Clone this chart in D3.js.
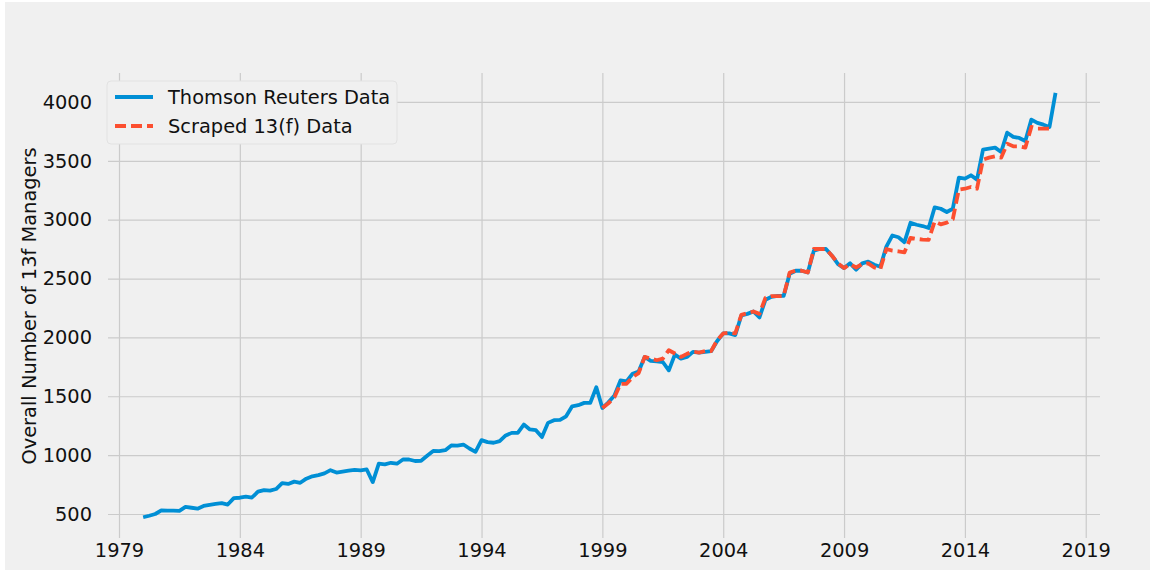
<!DOCTYPE html>
<html>
<head>
<meta charset="utf-8">
<script src="https://cdn.jsdelivr.net/npm/d3@7"></script>
<style>
  body { margin: 0; background: #ffffff; }
  svg { display: block; }
  text { font-family: "DejaVu Sans", sans-serif; }
</style>
</head>
<body>
<div id="chart"></div>
<script>
// quarterly counts, Thomson Reuters from 1980.00, scraped 13(f) from 1999.00
const trStart = 1980.0;
const thomsonReuters = [
  472, 485, 500, 530,   528, 528, 527, 560,   553, 545, 568, 578,   585, 592, 580, 635,
  638, 648, 640, 690,   703, 698, 712, 762,   755, 775, 765, 800,   820, 830, 845, 872,
  852, 860, 868, 875,   870, 878, 771, 927,   921, 935, 927, 963,   963, 950, 952, 995,
  1035, 1034, 1042, 1082, 1080, 1090, 1056, 1028, 1127, 1110, 1105, 1119, 1167, 1189, 1190, 1260,
  1218, 1212, 1153, 1274, 1297, 1300, 1330, 1415, 1424, 1444, 1444, 1577, 1400, 1449, 1506, 1634,
  1626, 1691, 1711, 1834, 1800, 1797, 1791, 1720, 1854, 1820, 1834, 1877, 1871, 1877, 1883, 1969,
  2034, 2034, 2020, 2186, 2200, 2220, 2170, 2320, 2345, 2352, 2352, 2540, 2566, 2566, 2551, 2737,
  2751, 2751, 2694, 2623, 2589, 2629, 2575, 2629, 2643, 2617, 2600, 2771, 2866, 2851, 2809, 2974,
  2957, 2946, 2929, 3105, 3093, 3065, 3093, 3357, 3348, 3377, 3340, 3595, 3603, 3612, 3575, 3739,
  3703, 3694, 3669, 3850, 3822, 3807, 3788, 4077
];
const scStart = 1999.0;
const scraped = [
  1400, 1440, 1491, 1606, 1606, 1663, 1697, 1834, 1820, 1806, 1820, 1891, 1863, 1834, 1860, 1880,
  1871, 1883, 1883, 1977, 2034, 2040, 2034, 2191, 2206, 2220, 2200, 2337, 2351, 2351, 2351, 2551,
  2566, 2566, 2551, 2751, 2751, 2751, 2694, 2629, 2589, 2623, 2594, 2623, 2629, 2594, 2580, 2751,
  2737, 2731, 2723, 2846, 2837, 2831, 2829, 2985, 2960, 2975, 3005, 3255, 3263, 3278, 3263, 3510,
  3527, 3538, 3527, 3646, 3623, 3623, 3612, 3788, 3773, 3773, 3773
];
const xTicks = [1979, 1984, 1989, 1994, 1999, 2004, 2009, 2014, 2019];
const yTicks = [500, 1000, 1500, 2000, 2500, 3000, 3500, 4000];
const seriesNames = ["Thomson Reuters Data", "Scraped 13(f) Data"];

const width = 1150, height = 577;
const plotLeft = 108, plotRight = 1100, plotTop = 73, plotBottom = 538;
const fontSize = "19.4px";

const svg = d3.select("#chart").append("svg")
  .attr("width", width).attr("height", height);

// figure background
svg.append("rect")
  .attr("x", 5).attr("y", 2)
  .attr("width", width - 5).attr("height", 568)
  .attr("fill", "#f0f0f0");

const x = d3.scaleLinear().domain([1978.545, 2019.59]).range([plotLeft, plotRight]);
const y = d3.scaleLinear().domain([296, 4246]).range([plotBottom, plotTop]);

const toPoints = (vals, start) => vals.map((v, i) => ({ t: start + i * 0.25, v: v }));
const trData = toPoints(thomsonReuters, trStart);
const scData = toPoints(scraped, scStart);

// grid + tick labels
const xAxis = svg.append("g")
  .attr("transform", `translate(0,${plotBottom})`)
  .call(d3.axisBottom(x).tickValues(xTicks).tickFormat(d3.format("d"))
    .tickSize(-(plotBottom - plotTop)).tickPadding(5));
const yAxis = svg.append("g")
  .attr("transform", `translate(${plotLeft},0)`)
  .call(d3.axisLeft(y).tickValues(yTicks).tickFormat(d3.format("d"))
    .tickSize(-(plotRight - plotLeft)).tickPadding(16));

[xAxis, yAxis].forEach(g => {
  g.select(".domain").remove();
  g.selectAll(".tick line").attr("stroke", "#cbcbcb").attr("stroke-width", 1.2);
  g.selectAll(".tick text").attr("font-size", fontSize).attr("fill", "#111")
    .attr("font-family", "DejaVu Sans");
});

const line = d3.line().x(d => x(d.t)).y(d => y(d.v));

svg.append("path")
  .datum(trData)
  .attr("d", line)
  .attr("fill", "none")
  .attr("stroke", "#008fd5")
  .attr("stroke-width", 3.8)
  .attr("stroke-linejoin", "round");

svg.append("path")
  .datum(scData)
  .attr("d", line)
  .attr("fill", "none")
  .attr("stroke", "#fc4f30")
  .attr("stroke-width", 3.8)
  .attr("stroke-dasharray", "11,5")
  .attr("stroke-linejoin", "round");

// y label
svg.append("text")
  .attr("transform", "translate(36,306) rotate(-90)")
  .attr("text-anchor", "middle")
  .attr("font-size", fontSize)
  .attr("fill", "#111")
  .text("Overall Number of 13f Managers");

// legend
const legend = svg.append("g");
legend.append("rect")
  .attr("x", 107).attr("y", 81).attr("width", 290).attr("height", 63)
  .attr("rx", 4)
  .attr("fill", "#f0f0f0")
  .attr("stroke", "#e2e2e2");
const legendItems = [
  { name: seriesNames[0], color: "#008fd5", dash: null, y: 97 },
  { name: seriesNames[1], color: "#fc4f30", dash: "11,5", y: 126 }
];
legendItems.forEach(item => {
  legend.append("line")
    .attr("x1", 115).attr("x2", 153)
    .attr("y1", item.y).attr("y2", item.y)
    .attr("stroke", item.color)
    .attr("stroke-width", 3.8)
    .attr("stroke-dasharray", item.dash);
  legend.append("text")
    .attr("x", 168).attr("y", item.y + 7)
    .attr("font-size", fontSize)
    .attr("fill", "#111")
    .text(item.name);
});
</script>
</body>
</html>
